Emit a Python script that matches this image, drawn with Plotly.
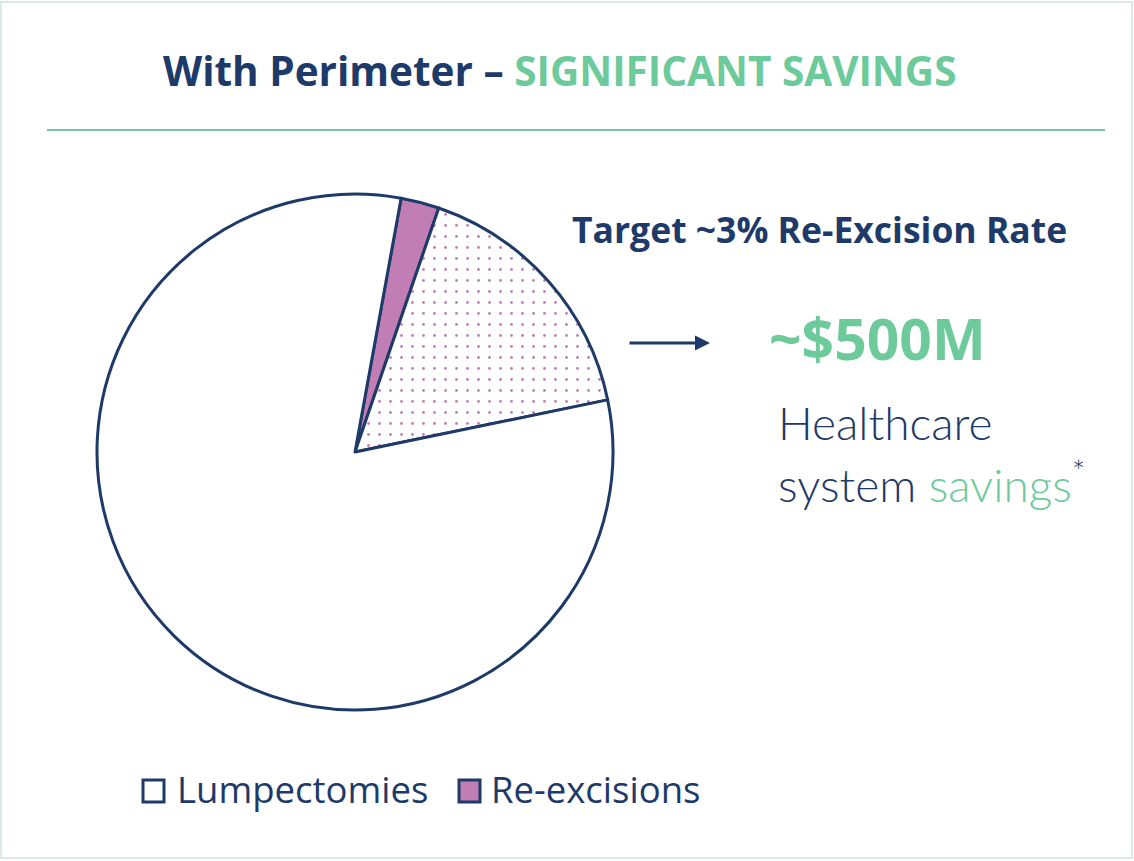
import plotly.graph_objects as go

W, H = 1134, 861

# ---- data ----
slice_labels = ["Re-excisions", "Re-excisions avoided", "Lumpectomies"]
slice_values = [2.4, 16.5, 81.1]
legend_labels = ["Lumpectomies", "Re-excisions"]
title_main = "With Perimeter – "
title_accent = "SIGNIFICANT SAVINGS"
target_text = "Target ~3% Re-Excision Rate"
savings_value = "~$500M"

NAVY = "#1e3a68"
GREEN = "#6dca9a"
PURPLE = "#c17eb5"

def px(x):
    return x / W

def py(y):
    return 1 - y / H

fig = go.Figure()

fig.add_trace(go.Pie(
    labels=slice_labels,
    values=slice_values,
    sort=False,
    direction="clockwise",
    rotation=10.3,
    textinfo="none",
    hoverinfo="label+percent",
    showlegend=False,
    domain=dict(x=[px(97), px(613)], y=[py(710), py(194)]),
    marker=dict(
        colors=[PURPLE, "white", "white"],
        line=dict(color=NAVY, width=3),
        pattern=dict(
            shape=["", ".", ""],
            fgcolor=[PURPLE, PURPLE, PURPLE],
            fillmode="replace",
            size=11,
            solidity=0.05,
        ),
    ),
))

shapes = [
    # page frame
    dict(type="rect", xref="paper", yref="paper", x0=px(1), x1=px(1132), y0=py(858), y1=py(2),
         line=dict(color="#dde8ea", width=2), fillcolor="rgba(0,0,0,0)", layer="below"),
    # green divider
    dict(type="line", xref="paper", yref="paper", x0=px(47), x1=px(1105), y0=py(130), y1=py(130),
         line=dict(color=GREEN, width=2)),
    # legend squares
    dict(type="rect", xref="paper", yref="paper", x0=px(143), x1=px(164), y0=py(802), y1=py(780),
         line=dict(color=NAVY, width=3), fillcolor="white"),
    dict(type="rect", xref="paper", yref="paper", x0=px(459), x1=px(480), y0=py(802), y1=py(780),
         line=dict(color=NAVY, width=3), fillcolor=PURPLE),
]

annotations = [
    dict(x=px(161), y=py(71), xanchor="left", yanchor="middle",
         text=f"<b>{title_main}</b><b><span style='color:{GREEN}'>{title_accent}</span></b>",
         font=dict(family="Open Sans", size=40.5, color=NAVY)),
    dict(x=px(570), y=py(229), xanchor="left", yanchor="middle",
         text=f"<b>{target_text}</b>",
         font=dict(family="Open Sans", size=35.5, color=NAVY)),
    dict(x=px(767), y=py(338), xanchor="left", yanchor="middle",
         text=f"<b>{savings_value}</b>",
         font=dict(family="Open Sans", size=57, color=GREEN)),
    dict(x=px(776), y=py(423), xanchor="left", yanchor="middle",
         text="Healthcare",
         font=dict(family="Lato", size=46, color=NAVY, weight=300)),
    dict(x=px(776), y=py(482), xanchor="left", yanchor="middle",
         text=f"system <span style='color:{GREEN}'>savings</span><sup>*</sup>",
         font=dict(family="Lato", size=46, color=NAVY, weight=300)),
    dict(x=px(175), y=py(789), xanchor="left", yanchor="middle",
         text=legend_labels[0],
         font=dict(family="Open Sans", size=36.5, color=NAVY)),
    dict(x=px(489), y=py(789), xanchor="left", yanchor="middle",
         text=legend_labels[1],
         font=dict(family="Open Sans", size=36.5, color=NAVY)),
    # arrow
    dict(x=px(710), y=py(343), ax=-82, ay=0, xref="paper", yref="paper",
         showarrow=True, arrowhead=2, arrowsize=1, arrowwidth=3, arrowcolor=NAVY,
         standoff=0, text=""),
]
for a in annotations:
    a.setdefault("xref", "paper")
    a.setdefault("yref", "paper")
    a.setdefault("showarrow", False)

fig.update_layout(
    width=W, height=H,
    margin=dict(l=0, r=0, t=0, b=0),
    paper_bgcolor="white",
    plot_bgcolor="white",
    shapes=shapes,
    annotations=annotations,
    showlegend=False,
)

fig.write_html("out.html", config={"displayModeBar": False})
